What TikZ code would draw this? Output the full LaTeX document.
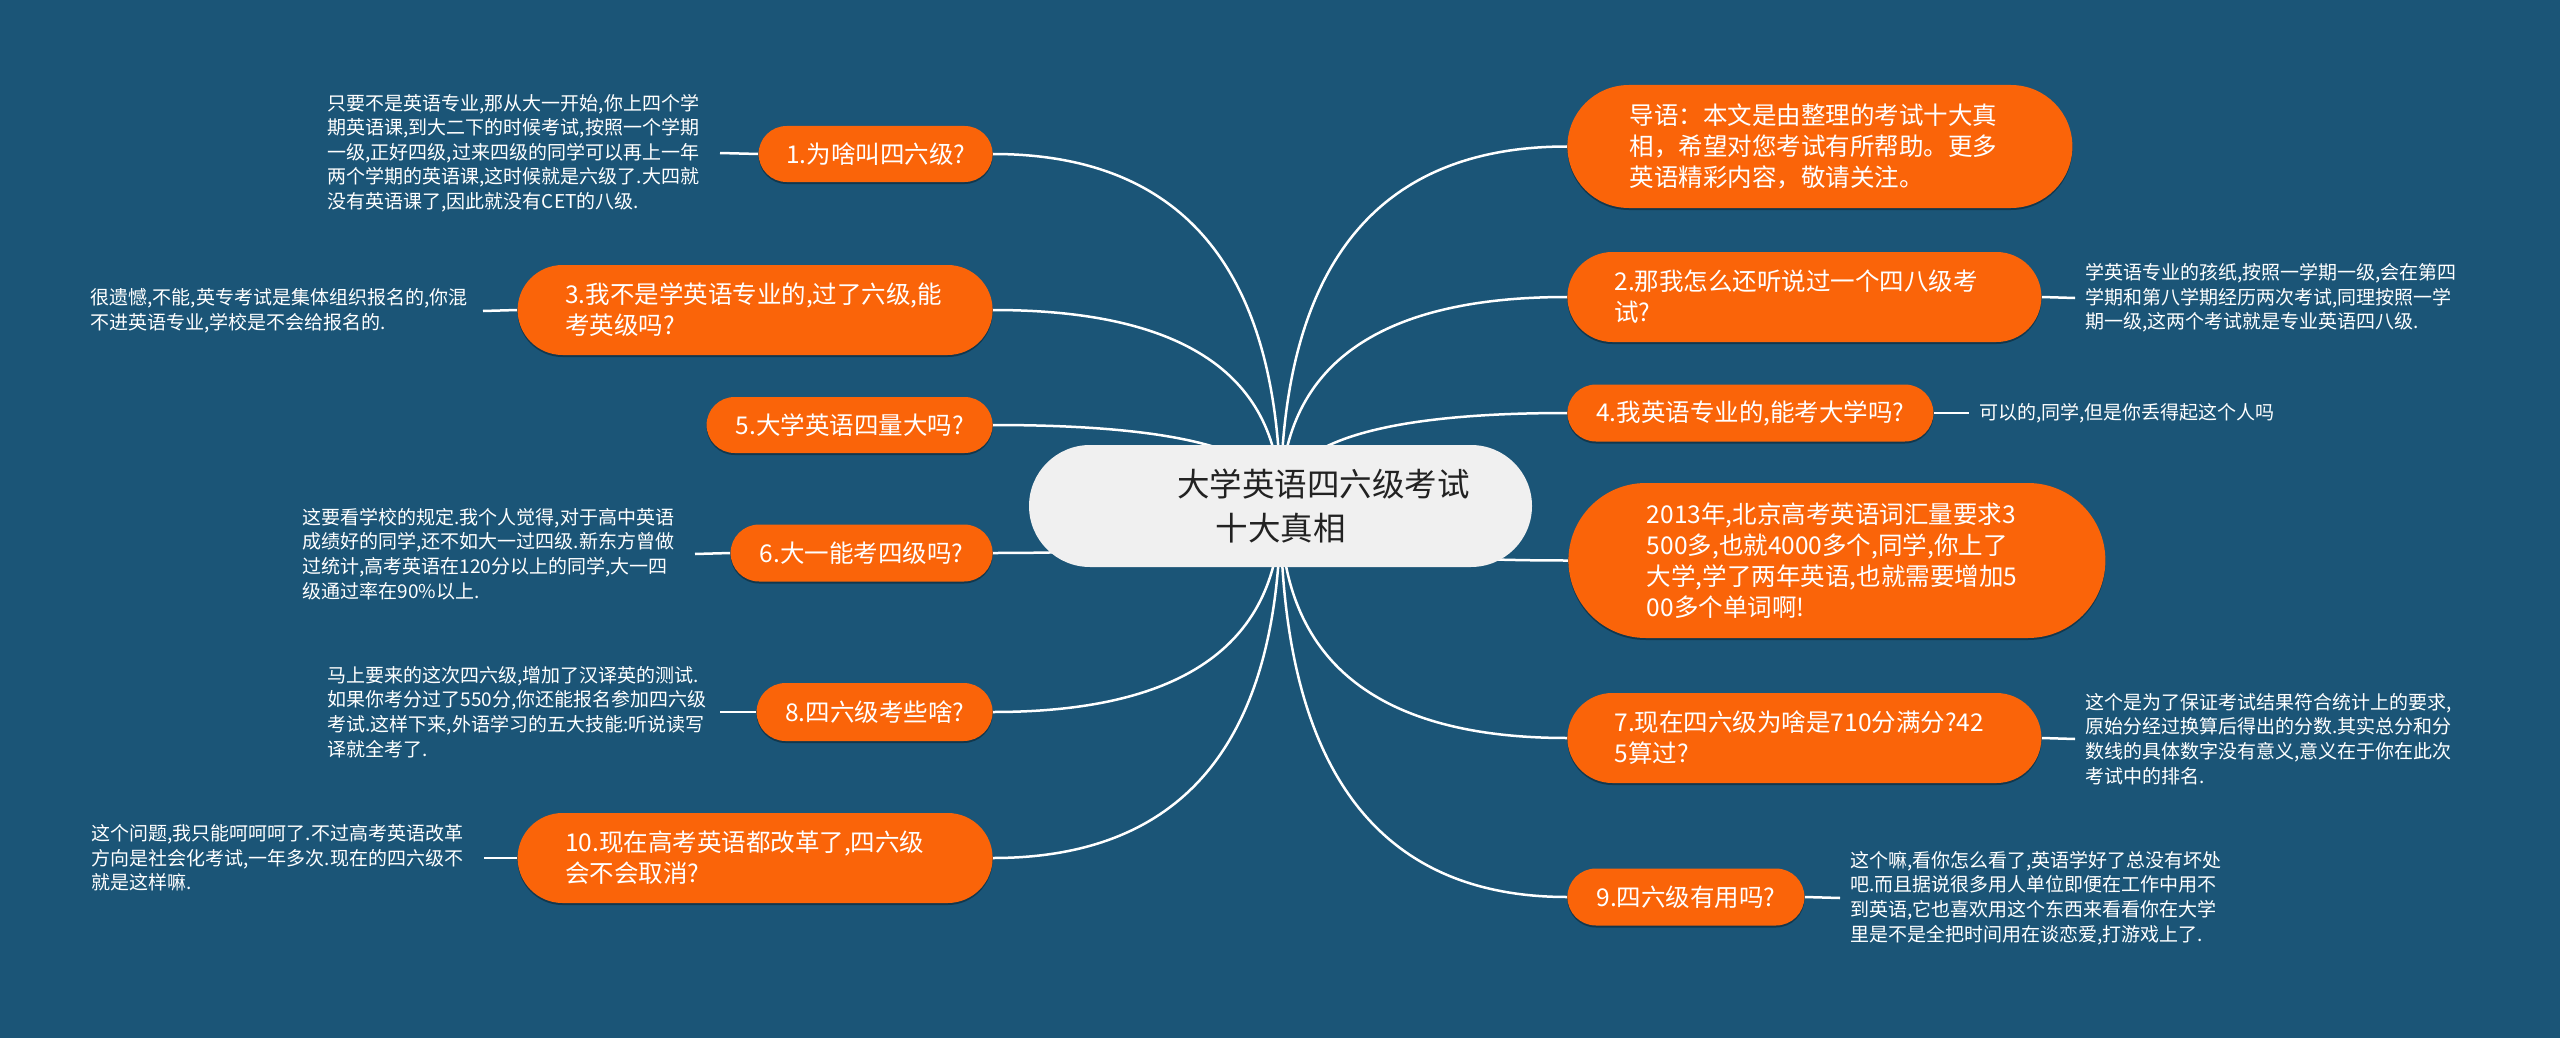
\documentclass[tikz,border=0pt]{standalone}
\usepackage{fontspec}
\setmainfont{Noto Sans CJK SC}
\usetikzlibrary{calc,shadows}
\definecolor{bgblue}{HTML}{1B5577}
\definecolor{orng}{HTML}{FA6409}
\definecolor{rootfill}{HTML}{F0F0F0}
\definecolor{roottext}{HTML}{222222}
\pgfdeclarelayer{bgl}
\pgfdeclarelayer{lines}
\pgfsetlayers{bgl,lines,main}
\newcommand\branchto[2]{\draw[conn] (#1.center) .. controls ($(#1.center)!0.6667!(#1.center |- #2)$) and ($(#2)!0.6667!(#1.center |- #2)$) .. (#2);}
\tikzset{
  obox/.style={fill=orng, text=white, inner sep=0pt,
    font=\fontsize{12.25pt}{15.5pt}\selectfont,
    drop shadow={shadow xshift=0pt, shadow yshift=-1pt, opacity=0.35, fill=black}},
  omulti/.style={obox, text width=190pt, align=left},
  leafl/.style={text=white, inner xsep=5pt, inner ysep=0pt, text width=191pt, align=left, anchor=east,
    font=\fontsize{9.5pt}{12.3pt}\selectfont},
  leafr/.style={leafl, anchor=west},
  conn/.style={draw=white, line width=1.25pt},
}
\begin{document}
\begin{tikzpicture}[x=0.5pt, y=-0.5pt]
\useasboundingbox (0,0) rectangle (2560,1038);
\begin{pgfonlayer}{bgl}
\fill[bgblue] (0,0) rectangle (2560,1038);
\end{pgfonlayer}

% root
\node[fill=rootfill, text=roottext, inner sep=0pt, minimum width=251.5pt, minimum height=61pt,
  rounded corners=30.5pt, align=center, font=\fontsize{16.25pt}{21.5pt}\selectfont]
  (root) at (1280.5,506) {\hspace*{43pt}大学英语四六级考试\\十大真相};

% left branches
\node[obox, anchor=east, minimum width=117pt, minimum height=28pt, rounded corners=14pt]
  (n1) at (993,154) {1.为啥叫四六级?};
\node[omulti, anchor=east, minimum width=237.5pt, minimum height=45pt, rounded corners=22.5pt]
  (n3) at (993,310) {3.我不是学英语专业的,过了六级,能\\考英级吗?};
\node[obox, anchor=east, minimum width=143pt, minimum height=28pt, rounded corners=14pt]
  (n5) at (993,425) {5.大学英语四量大吗?};
\node[obox, anchor=east, minimum width=131pt, minimum height=28.5pt, rounded corners=14.25pt]
  (n6) at (993,553) {6.大一能考四级吗?};
\node[obox, anchor=east, minimum width=118pt, minimum height=29pt, rounded corners=14.5pt]
  (n8) at (993,712) {8.四六级考些啥?};
\node[omulti, anchor=east, minimum width=237.5pt, minimum height=45pt, rounded corners=22.5pt]
  (n10) at (993,858) {10.现在高考英语都改革了,四六级\\会不会取消?};

% right branches
\node[omulti, anchor=west, minimum width=252.5pt, minimum height=61.5pt, rounded corners=30.75pt]
  (r0) at (1567,146.5) {导语：本文是由整理的考试十大真\\相，希望对您考试有所帮助。更多\\英语精彩内容，敬请关注。};
\node[omulti, anchor=west, minimum width=237pt, minimum height=45pt, rounded corners=22.5pt]
  (r2) at (1567,297) {2.那我怎么还听说过一个四八级考\\试?};
\node[obox, anchor=west, minimum width=183pt, minimum height=28.5pt, rounded corners=14.25pt]
  (r4) at (1567,413) {4.我英语专业的,能考大学吗?};
\node[omulti, anchor=west, minimum width=268.5pt, minimum height=77.5pt, rounded corners=38.75pt]
  (r6) at (1568,560.5) {2013年,北京高考英语词汇量要求3\\500多,也就4000多个,同学,你上了\\大学,学了两年英语,也就需要增加5\\00多个单词啊!};
\node[omulti, anchor=west, minimum width=237pt, minimum height=45pt, rounded corners=22.5pt]
  (r7) at (1567,738) {7.现在四六级为啥是710分满分?42\\5算过?};
\node[obox, anchor=west, minimum width=118.5pt, minimum height=28.5pt, rounded corners=14.25pt]
  (r9) at (1567,897) {9.四六级有用吗?};

% leaves left
\node[leafl] (l1) at (720,153) {只要不是英语专业,那从大一开始,你上四个学\\期英语课,到大二下的时候考试,按照一个学期\\一级,正好四级,过来四级的同学可以再上一年\\两个学期的英语课,这时候就是六级了.大四就\\没有英语课了,因此就没有CET的八级.};
\node[leafl] (l3) at (483,311) {很遗憾,不能,英专考试是集体组织报名的,你混\\不进英语专业,学校是不会给报名的.};
\node[leafl] (l6) at (695,554) {这要看学校的规定.我个人觉得,对于高中英语\\成绩好的同学,还不如大一过四级.新东方曾做\\过统计,高考英语在120分以上的同学,大一四\\级通过率在90\%以上.};
\node[leafl] (l8) at (720,712) {马上要来的这次四六级,增加了汉译英的测试.\\如果你考分过了550分,你还能报名参加四六级\\考试.这样下来,外语学习的五大技能:听说读写\\译就全考了.};
\node[leafl] (l10) at (484,858) {这个问题,我只能呵呵呵了.不过高考英语改革\\方向是社会化考试,一年多次.现在的四六级不\\就是这样嘛.};

% leaves right
\node[leafr] (q2) at (2075,298) {学英语专业的孩纸,按照一学期一级,会在第四\\学期和第八学期经历两次考试,同理按照一学\\期一级,这两个考试就是专业英语四八级.};
\node[leafr] (q4) at (1969,413) {可以的,同学,但是你丢得起这个人吗};
\node[leafr] (q7) at (2075,739) {这个是为了保证考试结果符合统计上的要求,\\原始分经过换算后得出的分数.其实总分和分\\数线的具体数字没有意义,意义在于你在此次\\考试中的排名.};
\node[leafr] (q9) at (1840,898) {这个嘛,看你怎么看了,英语学好了总没有坏处\\吧.而且据说很多用人单位即便在工作中用不\\到英语,它也喜欢用这个东西来看看你在大学\\里是不是全把时间用在谈恋爱,打游戏上了.};

\begin{pgfonlayer}{lines}
\branchto{root}{n1.east}
\branchto{root}{n3.east}
\branchto{root}{n5.east}
\branchto{root}{n6.east}
\branchto{root}{n8.east}
\branchto{root}{n10.east}
\branchto{root}{r0.west}
\branchto{root}{r2.west}
\branchto{root}{r4.west}
\branchto{root}{r6.west}
\branchto{root}{r7.west}
\branchto{root}{r9.west}
\draw[conn] (n1.west) -- (l1.east);
\draw[conn] (n3.west) -- (l3.east);
\draw[conn] (n6.west) -- (l6.east);
\draw[conn] (n8.west) -- (l8.east);
\draw[conn] (n10.west) -- (l10.east);
\draw[conn] (r2.east) -- (q2.west);
\draw[conn] (r4.east) -- (q4.west);
\draw[conn] (r7.east) -- (q7.west);
\draw[conn] (r9.east) -- (q9.west);
\end{pgfonlayer}
\end{tikzpicture}
\end{document}
